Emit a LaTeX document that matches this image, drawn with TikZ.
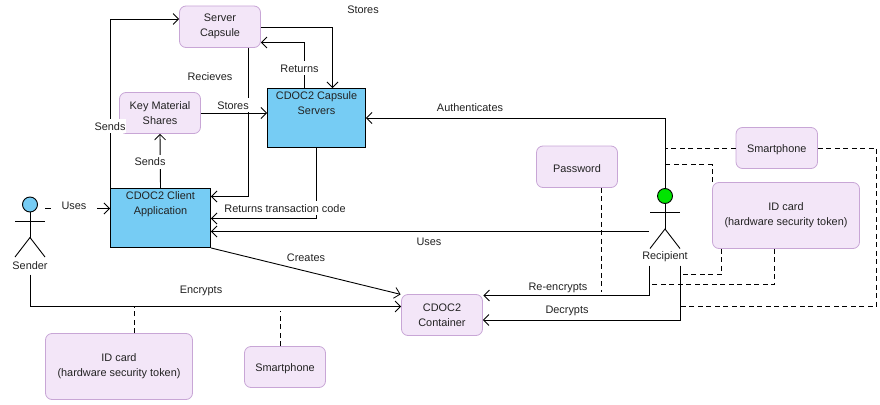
\documentclass[tikz,border=0pt]{standalone}
\usepackage{fontspec}
\setmainfont{Liberation Sans}
\usepackage{xcolor}
\usetikzlibrary{arrows.meta}
\definecolor{boxpink}{HTML}{F3E6F8}
\definecolor{boxedge}{HTML}{C8A6D6}
\definecolor{boxblue}{HTML}{76CCF4}
\definecolor{headgreen}{HTML}{00E400}
\definecolor{inktext}{HTML}{222222}
\tikzset{
  item/.style={draw=boxedge,fill=boxpink,rounded corners=6.5pt,align=center,line width=0.8pt,inner sep=0pt,text=inktext,execute at begin node={\rule{0pt}{11pt}}},
  unit/.style={draw=black,fill=boxblue,align=center,line width=0.9pt,inner sep=0pt,text=inktext,execute at begin node={\rule{0pt}{10pt}}},
  wire/.style={draw=black,line width=0.9pt},
  link/.style={wire,-{Straight Barb[length=5.5pt,width=11pt,line width=0.8pt]}},
  tie/.style={wire,dash pattern=on 5pt off 3.5pt},
  tag/.style={fill=white,inner xsep=1pt,inner ysep=1.5pt,text height=9.5pt,text depth=1.5pt,text=inktext},
}
\newcommand{\stickman}[3]{
  \draw[wire,fill=#3] (#1,#2) circle [radius=7.5];
  \draw[wire] (#1,#2+7.5) -- (#1,#2+33);
  \draw[wire] (#1-15,#2+16.5) -- (#1+15,#2+16.5);
  \draw[wire] (#1-15,#2+52.5) -- (#1,#2+33) -- (#1+15,#2+52.5);
}
\begin{document}
\begin{tikzpicture}[x=1pt,y=-1pt,font=\fontsize{10.9}{15}\selectfont]
  \useasboundingbox (0,0) rectangle (880,404);

  \node[item,minimum width=81pt,minimum height=41.5pt] (srvcap) at (220,26.75) {Server\\Capsule};
  \node[item,minimum width=81pt,minimum height=41pt] (keyshare) at (160,113) {Key Material\\Shares};
  \node[unit,minimum width=98pt,minimum height=59pt] (capsrv) at (316.5,118) {CDOC2 Capsule\\Servers\\~\\~};
  \node[unit,minimum width=100pt,minimum height=59pt] (client) at (160.5,218) {CDOC2 Client\\Application\\~\\~};
  \node[item,minimum width=81pt,minimum height=41.5pt] (passwd) at (577,166.75) {Password};
  \node[item,minimum width=81.5pt,minimum height=41pt] (phoneR) at (776.75,148) {Smartphone};
  \node[item,minimum width=147pt,minimum height=66pt] (cardR) at (786,215.5) {ID card\\(hardware security token)};
  \node[item,minimum width=81pt,minimum height=41pt] (cntr) at (442,315) {CDOC2\\Container};
  \node[item,minimum width=147pt,minimum height=66pt] (cardL) at (119,366.5) {ID card\\(hardware security token)};
  \node[item,minimum width=81pt,minimum height=41pt] (phoneL) at (285,367) {Smartphone};

  \stickman{30}{204.5}{boxblue}
  \stickman{665}{196}{headgreen}
  \node[text=inktext,inner sep=0pt] (sender) at (30,265.5) {Sender};
  \node[text=inktext,inner sep=0pt] (recipient) at (665,257) {Recipient};

  \coordinate (sndhand) at (45,208.5);
  \coordinate (sndfoot) at (30,274.5);
  \coordinate (rcptop) at (665,188.5);
  \coordinate (rcphand) at (649,231.5);
  \coordinate (rcpleft) at (649.5,265.5);
  \coordinate (rcpright) at (680,265.5);
  \coordinate (phoneLend) at (280.5,311);

  % solid connectors
  \draw[link] (client.north west) |- ([yshift=7.75pt]srvcap.west);
  \draw[link] (client.north) -- (keyshare.south);
  \draw[link] (keyshare.east) -- (capsrv.west |- keyshare.east);
  \draw[link] ([xshift=28.5pt]srvcap.south) |- ([yshift=21.5pt]client.east);
  \draw[link] ([yshift=-0.25pt]srvcap.east |- 0,27) -| ([xshift=16pt]capsrv.north);
  \draw[link] ([xshift=-12pt]capsrv.north) |- (srvcap.east |- 0,42.5);
  \draw[link] (capsrv.south) |- (client.east |- 0,218.5);
  \draw[link] (rcptop) |- (capsrv.east);
  \draw[link] (rcphand) -- (client.east |- rcphand);
  \draw[link] (client.south east) -- ([shift={(-0.5pt,-0.25pt)}]cntr.north west);
  \draw[link] (sndfoot) |- (cntr.west |- 0,306.5);
  \draw[link] (sndhand) -- (client.west |- sndhand);
  \draw[link] (rcpleft) |- ([xshift=0.5pt]cntr.east |- 0,295.5);
  \draw[link] (rcpright) |- (cntr.east |- 0,320);

  % dashed ties
  \draw[tie] ([xshift=24.5pt]passwd.south) -- ++(0,104.5);
  \draw[tie] (phoneR.west) -- (rcptop |- phoneR.west);
  \draw[tie] (phoneR.east) -| (876.5,306.5) -- (rcpright |- 0,306.5);
  \draw[tie] (cardR.north west) |- (rcptop |- 0,164.5);
  \draw[tie] ([xshift=-64.5pt]cardR.south) |- (rcpright |- 0,274.5);
  \draw[tie] ([xshift=-11.5pt]cardR.south) |- (rcpleft |- 0,284.5);
  \draw[tie] ([xshift=15.5pt]cardL.north) -- ++(0,-27);
  \draw[tie] ([xshift=-4.5pt]phoneL.north) -- (phoneLend);

  % connector labels
  \node[tag,minimum width=46pt] (lbluses) at (74,205) {Uses};
  \node[tag] (lblsends) at (110,126) {Sends};
  \node[tag] (lblsendsk) at (150,161.5) {Sends};
  \node[tag] (lblrecv) at (210,76) {Recieves};
  \node[tag] (lblstoresk) at (233,105) {Stores};
  \node[tag] (lblstores) at (363,10) {Stores};
  \node[tag] (lblreturns) at (299.5,68) {Returns};
  \node[tag] (lblauth) at (470,107) {Authenticates};
  \node[tag] (lblcode) at (285,208) {Returns transaction code};
  \node[tag] (lbluse) at (429,241) {Uses};
  \node[tag] (lblcreate) at (306,257) {Creates};
  \node[tag] (lblenc) at (201,289) {Encrypts};
  \node[tag] (lblreenc) at (558,286) {Re-encrypts};
  \node[tag] (lbldec) at (567,309) {Decrypts};
\end{tikzpicture}
\end{document}
